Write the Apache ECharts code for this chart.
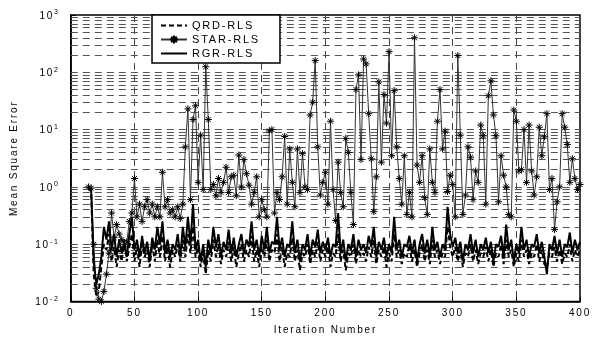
<!DOCTYPE html>
<html><head><meta charset="utf-8">
<script src="https://cdn.jsdelivr.net/npm/echarts@6/dist/echarts.min.js"></script>
<style>html,body{margin:0;padding:0;background:#fff}#c{width:598px;height:341px}</style>
</head><body><div id="c"></div>
<script>
// iterations: 14, 16, ..., 400
const firstIter = 14, iterStep = 2;
const seriesNames = ['QRD-RLS', 'STAR-RLS', 'RGR-RLS'];
const xTickValues = [0, 50, 100, 150, 200, 250, 300, 350, 400];
const yDecadeExponents = [-2, -1, 0, 1, 2, 3];

const qrdRls = [
1.0,0.8,0.03,0.012,0.015,0.04,0.1,0.08,0.15,0.05,
0.09,0.04,0.08,0.05,0.12,0.05,0.09,0.15,0.05,0.09,
0.04,0.1,0.06,0.08,0.04,0.1,0.05,0.12,0.06,0.14,
0.05,0.09,0.04,0.08,0.06,0.1,0.05,0.12,0.06,0.15,
0.07,0.2,0.06,0.09,0.04,0.07,0.03,0.08,0.05,0.12,
0.06,0.1,0.045,0.08,0.06,0.11,0.05,0.09,0.04,0.07,
0.1,0.05,0.08,0.06,0.14,0.05,0.08,0.04,0.09,0.06,
0.12,0.05,0.08,0.07,0.15,0.05,0.09,0.04,0.07,0.06,
0.13,0.05,0.08,0.035,0.07,0.06,0.1,0.045,0.08,0.06,
0.11,0.05,0.08,0.06,0.09,0.04,0.07,0.06,0.15,0.05,
0.08,0.035,0.07,0.06,0.1,0.045,0.08,0.06,0.07,0.05,
0.09,0.06,0.12,0.045,0.08,0.06,0.09,0.04,0.07,0.05,
0.15,0.06,0.08,0.045,0.07,0.06,0.1,0.05,0.08,0.04,
0.07,0.1,0.05,0.08,0.045,0.12,0.06,0.08,0.045,0.07,
0.06,0.2,0.09,0.06,0.09,0.05,0.08,0.04,0.07,0.06,
0.1,0.05,0.08,0.045,0.07,0.06,0.09,0.05,0.08,0.04,
0.07,0.06,0.1,0.045,0.12,0.06,0.08,0.04,0.07,0.05,
0.12,0.06,0.08,0.045,0.07,0.06,0.1,0.05,0.08,0.045,
0.04,0.07,0.06,0.09,0.05,0.08,0.045,0.07,0.06,0.1,
0.05,0.08,0.06,0.08];

const starRls = [
1.0,0.95,0.1,0.017,0.011,0.01,0.015,0.03,0.07,0.35,
0.13,0.22,0.15,0.12,0.09,0.11,0.25,0.35,1.4,0.3,
0.5,0.25,0.45,0.6,0.35,0.5,0.3,0.45,0.3,1.8,
0.45,0.6,0.35,0.4,0.3,0.45,0.28,0.5,5.0,23,
0.6,15,26,1.2,8,0.9,125,15,0.9,1.1,
0.7,1.4,0.8,1.2,2.2,0.8,1.5,1.6,0.7,3.6,
1.0,3.0,1.7,1.07,0.5,0.8,1.5,0.3,0.6,0.4,
0.3,9.5,10,0.35,0.8,0.6,1.5,7.6,0.5,4.6,
1.2,0.45,4.6,0.8,3.8,1.0,0.9,18,30,160,
5,0.72,1.2,1.8,0.5,14,0.9,0.26,2.7,0.8,
0.45,7,4,0.8,0.22,50,90,3,170,140,
19,3.1,0.37,1.5,68,2.7,41,13,230,3.5,
48,5,1.4,0.5,3.5,0.33,0.8,0.3,400,2.4,
1.2,3.5,0.65,0.33,4.6,1.2,0.8,14,50,4.6,
9.4,0.83,1.6,1.1,0.3,196,8,0.33,0.72,5,
3.3,0.6,1.9,1.2,12,7.8,0.5,39,71,18,
7.8,0.55,3.5,1.6,1.0,0.33,0.3,22,14,1.9,
2,10,1.2,12,1.9,0.72,1.5,11,3.5,7.5,
19,0.9,1.4,0.18,0.55,1,19,11,5.5,1.2,
3.1,1.4,0.9,1.1];

const rgrRls = [
1.0,0.9,0.05,0.02,0.03,0.06,0.2,0.12,0.25,0.08,
0.15,0.06,0.12,0.07,0.1,0.06,0.15,0.3,0.08,0.12,
0.06,0.14,0.07,0.11,0.05,0.13,0.08,0.2,0.1,0.25,
0.07,0.12,0.06,0.1,0.08,0.15,0.06,0.2,0.09,0.3,
0.1,0.5,0.08,0.12,0.05,0.1,0.04,0.12,0.07,0.2,
0.09,0.15,0.06,0.11,0.08,0.18,0.07,0.13,0.06,0.1,
0.15,0.07,0.12,0.09,0.25,0.08,0.12,0.06,0.14,0.08,
0.2,0.07,0.11,0.1,0.3,0.08,0.13,0.06,0.1,0.09,
0.25,0.07,0.12,0.05,0.1,0.08,0.15,0.06,0.12,0.09,
0.18,0.07,0.11,0.08,0.13,0.06,0.1,0.09,0.35,0.07,
0.12,0.05,0.1,0.08,0.15,0.06,0.12,0.08,0.1,0.07,
0.14,0.09,0.2,0.06,0.11,0.08,0.13,0.06,0.1,0.07,
0.3,0.08,0.12,0.06,0.1,0.09,0.14,0.07,0.12,0.05,
0.1,0.15,0.07,0.12,0.06,0.2,0.08,0.11,0.06,0.1,
0.08,0.45,0.15,0.09,0.13,0.07,0.11,0.05,0.1,0.08,
0.15,0.07,0.12,0.06,0.1,0.08,0.13,0.07,0.11,0.05,
0.1,0.09,0.14,0.06,0.22,0.08,0.12,0.05,0.1,0.07,
0.2,0.08,0.12,0.06,0.1,0.09,0.15,0.07,0.11,0.06,
0.03,0.1,0.08,0.14,0.07,0.12,0.06,0.1,0.09,0.16,
0.07,0.12,0.08,0.11];

// letter spacing like the original print
const LS = '1.8px';
(function(){
  const P = CanvasRenderingContext2D.prototype;
  const oF = P.fillText, oS = P.strokeText, oM = P.measureText;
  P.fillText = function(){ this.letterSpacing = LS; return oF.apply(this, arguments); };
  P.strokeText = function(){ this.letterSpacing = LS; return oS.apply(this, arguments); };
  P.measureText = function(){ this.letterSpacing = LS; return oM.apply(this, arguments); };
})();

function pairs(arr){ return arr.map((v,i)=>[firstIter + i*iterStep, v]); }

// horizontal grid at every 1..9 x 10^n
const yGrid = [];
for (let e = yDecadeExponents[0]; e < yDecadeExponents[yDecadeExponents.length-1]; e++) {
  for (let k = 1; k <= 9; k++) {
    if (e === yDecadeExponents[0] && k === 1) continue;
    yGrid.push(+(k*Math.pow(10,e)).toPrecision(3));
  }
}

const FONT = 'Liberation Sans, Arial, sans-serif';
const starPath = 'path://M5 0L5 10M0 5L10 5M1.5 1.5L8.5 8.5M8.5 1.5L1.5 8.5';
const hiddenSym = {color: 'rgba(0,0,0,0)', borderWidth: 0, opacity: 0};

const chart = echarts.init(document.getElementById('c'), null, {renderer:'canvas'});
chart.setOption({
  animation: false,
  backgroundColor: '#fff',
  textStyle: {fontFamily: FONT, color: '#000'},
  grid: {left: 66, right: 18, top: 15, bottom: 31, show: true, borderColor: '#000', borderWidth: 1.5},
  legend: {
    orient: 'vertical', left: 152, top: 15,
    itemWidth: 26, itemHeight: 10, itemGap: 1,
    padding: [4, 20, 3, 8],
    backgroundColor: '#fff', borderColor: '#000', borderWidth: 1.5, borderRadius: 0,
    textStyle: {fontSize: 11, lineHeight: 13, color: '#000', fontFamily: FONT},
    data: [
      {name: seriesNames[0], itemStyle: hiddenSym},
      {name: seriesNames[1]},
      {name: seriesNames[2], itemStyle: hiddenSym}
    ]
  },
  xAxis: {
    type: 'value', min: xTickValues[0], max: xTickValues[xTickValues.length-1], interval: 50,
    name: 'Iteration Number', nameLocation: 'middle', nameGap: 18,
    nameTextStyle: {fontSize: 10, color: '#000', fontFamily: FONT},
    axisLine: {lineStyle: {color: '#000', width: 1.5}},
    axisTick: {inside: true, length: 5, lineStyle: {color: '#000'}},
    axisLabel: {fontSize: 10, color: '#000', margin: 6, fontFamily: FONT},
    splitLine: {show: true, lineStyle: {color: '#444', width: 1, type: [7, 5]}}
  },
  yAxis: {
    type: 'log', logBase: 10, min: 0.01, max: 1000,
    name: 'Mean Square Error', nameLocation: 'middle', nameGap: 51,
    nameTextStyle: {fontSize: 10, color: '#000', fontFamily: FONT},
    axisLine: {lineStyle: {color: '#000', width: 1.5}},
    axisTick: {inside: true, length: 5, lineStyle: {color: '#000'}},
    splitLine: {show: false},
    axisLabel: {
      margin: 11,
      formatter: function(v){ const e = Math.round(Math.log10(v)); return '{b|10}{s|' + e + '}'; },
      rich: {
        b: {fontSize: 10, color: '#000', fontFamily: FONT, lineHeight: 14, verticalAlign: 'bottom'},
        s: {fontSize: 7, color: '#000', fontFamily: FONT, lineHeight: 14, verticalAlign: 'top', padding: [0,0,6,0]}
      }
    }
  },
  series: [
    {
      name: seriesNames[0], type: 'line', data: pairs(qrdRls), symbol: 'none', z: 3,
      lineStyle: {color: '#000', width: 2, type: [5, 3]}, itemStyle: {color: '#000'},
      markLine: {
        silent: true, symbol: ['none','none'], label: {show: false}, z: 1, animation: false,
        lineStyle: {color: '#555', width: 1, type: [7, 5]},
        emphasis: {disabled: true},
        data: yGrid.map(v => ({yAxis: v}))
      }
    },
    {
      name: seriesNames[1], type: 'line', data: pairs(starRls), z: 4,
      symbol: starPath, symbolSize: 7, showAllSymbol: true,
      lineStyle: {color: '#333', width: 1},
      itemStyle: {color: '#000', borderColor: '#000', borderWidth: 1}
    },
    {
      name: seriesNames[2], type: 'line', data: pairs(rgrRls), symbol: 'none', z: 5,
      lineStyle: {color: '#000', width: 2}, itemStyle: {color: '#000'}
    }
  ]
});
</script></body></html>
